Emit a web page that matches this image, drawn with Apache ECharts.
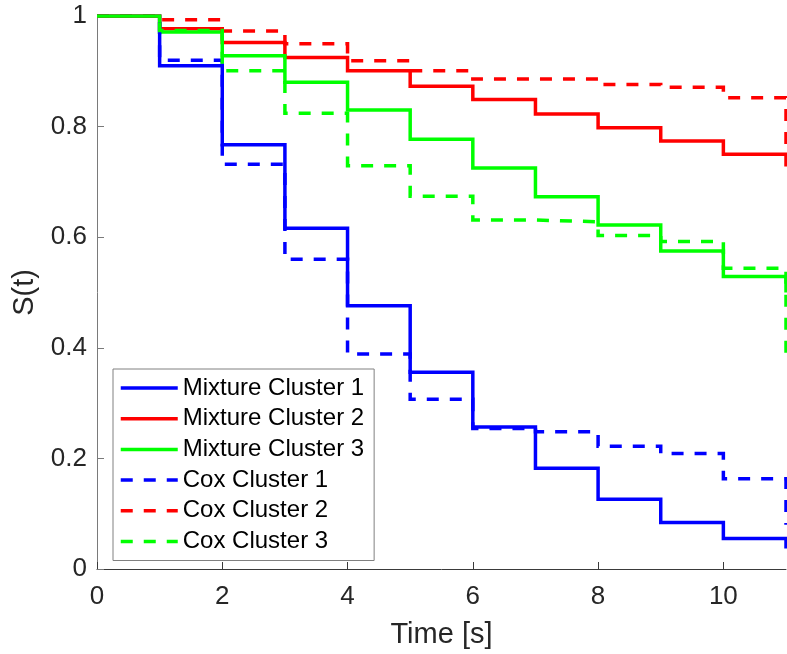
<!DOCTYPE html>
<html>
<head>
<meta charset="utf-8">
<script src="https://cdn.jsdelivr.net/npm/echarts@6/dist/echarts.min.js"></script>
<style>
  html, body { margin: 0; padding: 0; background: #fff; }
  #chart { width: 787px; height: 654px; }
</style>
</head>
<body>
<div id="chart"></div>
<script>
// Survival step curves per cluster: value held from each time until the next
const times = [0, 1, 2, 3, 4, 5, 6, 7, 8, 9, 10, 11];

const mixtureCluster1 = [1, 0.910, 0.767, 0.616, 0.476, 0.356, 0.257, 0.182, 0.126, 0.084, 0.055, 0.037];
const mixtureCluster2 = [1, 0.977, 0.952, 0.925, 0.901, 0.873, 0.849, 0.823, 0.798, 0.774, 0.750, 0.728];
const mixtureCluster3 = [1, 0.971, 0.928, 0.880, 0.830, 0.777, 0.725, 0.673, 0.622, 0.575, 0.529, 0.500];
const coxCluster1     = [1, 0.920, 0.732, 0.560, 0.389, 0.307, 0.254, 0.248, 0.222, 0.209, 0.163, 0.080];
const coxCluster2     = [1, 0.993, 0.973, 0.950, 0.919, 0.901, 0.886, 0.886, 0.876, 0.871, 0.852, 0.763];
const coxCluster3     = [1, 0.974, 0.901, 0.824, 0.729, 0.674, 0.631, 0.628, 0.603, 0.592, 0.544, 0.375];

const xTickValues = [0, 2, 4, 6, 8, 10];
const yTickValues = [0, 0.2, 0.4, 0.6, 0.8, 1];

const FONT = 'Liberation Sans, Arial, Helvetica, sans-serif';
const DASH = [12, 11];
const LINE_WIDTH = 3.5;

function pairs(values) {
  return times.map((t, i) => [t, values[i]]);
}

function stepSeries(name, values, color, dashed) {
  return {
    name: name,
    type: 'line',
    step: 'end',
    data: pairs(values),
    symbol: 'none',
    showSymbol: false,
    animation: false,
    lineStyle: { color: color, width: LINE_WIDTH, type: dashed ? DASH : 'solid', cap: 'butt', join: 'miter' },
    itemStyle: { color: color },
    emphasis: { disabled: true }
  };
}

const chart = echarts.init(document.getElementById('chart'), null, { renderer: 'canvas' });

chart.setOption({
  animation: false,
  backgroundColor: '#ffffff',
  grid: { left: 97, right: 1, top: 16, bottom: 85, containLabel: false },
  xAxis: {
    type: 'value',
    min: 0,
    max: 11,
    interval: 2,
    name: 'Time [s]',
    nameLocation: 'middle',
    nameGap: 51,
    nameTextStyle: { fontFamily: FONT, fontSize: 29, color: '#262626' },
    axisLine: { show: true, lineStyle: { color: '#3a3a3a', width: 1 } },
    axisTick: { show: true, inside: true, length: 7, lineStyle: { color: '#3a3a3a' }, customValues: xTickValues },
    axisLabel: { fontFamily: FONT, fontSize: 26, color: '#262626', margin: 15, customValues: xTickValues },
    splitLine: { show: false }
  },
  yAxis: {
    type: 'value',
    min: 0,
    max: 1,
    interval: 0.2,
    name: 'S(t)',
    nameLocation: 'middle',
    nameGap: 53,
    nameRotate: 90,
    nameTextStyle: { fontFamily: FONT, fontSize: 29, color: '#262626' },
    axisLine: { show: true, lineStyle: { color: '#7a7a7a', width: 1 } },
    axisTick: { show: true, inside: true, length: 7, lineStyle: { color: '#7a7a7a' }, customValues: yTickValues },
    axisLabel: { fontFamily: FONT, fontSize: 26, color: '#262626', margin: 10, customValues: yTickValues,
      formatter: v => (v === 0 || v === 1) ? String(v) : v.toFixed(1) },
    splitLine: { show: false }
  },
  legend: {
    orient: 'vertical',
    left: 113,
    top: 369,
    padding: [7, 10, 7, 6],
    itemWidth: 57,
    itemHeight: 24,
    itemGap: 6.7,
    backgroundColor: '#ffffff',
    borderColor: '#808080',
    borderWidth: 1,
    borderRadius: 0,
    selectedMode: false,
    itemStyle: { color: 'rgba(0,0,0,0)', borderWidth: 0, opacity: 0 },
    lineStyle: { width: LINE_WIDTH },
    textStyle: { fontFamily: FONT, fontSize: 24, color: '#000000', lineHeight: 24, padding: [0, 0, 0, 0] },
    data: ['Mixture Cluster 1', 'Mixture Cluster 2', 'Mixture Cluster 3', 'Cox Cluster 1', 'Cox Cluster 2', 'Cox Cluster 3']
  },
  series: [
    stepSeries('Mixture Cluster 1', mixtureCluster1, '#0000ff', false),
    stepSeries('Mixture Cluster 2', mixtureCluster2, '#ff0000', false),
    stepSeries('Mixture Cluster 3', mixtureCluster3, '#00ff00', false),
    stepSeries('Cox Cluster 1', coxCluster1, '#0000ff', true),
    stepSeries('Cox Cluster 2', coxCluster2, '#ff0000', true),
    stepSeries('Cox Cluster 3', coxCluster3, '#00ff00', true)
  ]
});
</script>
</body>
</html>
